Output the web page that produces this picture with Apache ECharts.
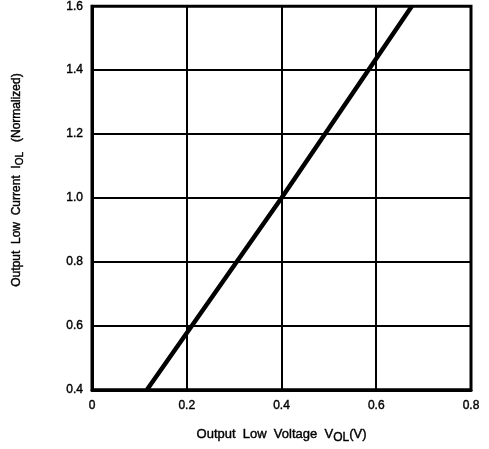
<!DOCTYPE html>
<html>
<head>
<meta charset="utf-8">
<script src="https://cdn.jsdelivr.net/npm/echarts@6/dist/echarts.min.js"></script>
<style>
  html, body { margin: 0; padding: 0; background: #fff; }
  #chart { width: 489px; height: 449px; }
</style>
</head>
<body>
<div id="chart"></div>
<script>
// Output low current (normalized) vs. output low voltage
const xTicks = [0, 0.2, 0.4, 0.6, 0.8];
const yTicks = [0.4, 0.6, 0.8, 1.0, 1.2, 1.4, 1.6];
const voltage = [0.116, 0.4, 0.675];
const current = [0.4, 1.0, 1.6];

const seriesData = voltage.map((v, i) => [v, current[i]]);
const fontFamily = '"Liberation Sans", Arial, sans-serif';
const ink = { color: '#000', fontFamily, textBorderColor: '#000', textBorderWidth: 0.4 };

const chart = echarts.init(document.getElementById('chart'), null, { renderer: 'canvas' });
chart.setOption({
  backgroundColor: '#fff',
  animation: false,
  grid: {
    left: 92, top: 5, right: 18, bottom: 57,
    show: true, borderColor: '#000', borderWidth: 3
  },
  xAxis: {
    type: 'value',
    min: xTicks[0], max: xTicks[xTicks.length - 1], interval: 0.2,
    axisLine: { show: true, lineStyle: { color: '#000', width: 3 } },
    axisTick: { show: false },
    splitLine: { show: true, lineStyle: { color: '#000', width: 2 } },
    axisLabel: Object.assign({}, ink, {
      fontSize: 12, margin: 10,
      formatter: v => (v === 0 ? '0' : v.toFixed(1))
    }),
    name: '{t|Output  Low  Voltage  V}{s|OL}{t|(V)}',
    nameLocation: 'middle', nameGap: 36,
    nameTextStyle: {
      rich: {
        t: Object.assign({}, ink, { fontSize: 13, lineHeight: 15 }),
        s: Object.assign({}, ink, { fontSize: 12, padding: [6, 0, 0, 0] })
      }
    }
  },
  yAxis: {
    type: 'value',
    min: yTicks[0], max: yTicks[yTicks.length - 1], interval: 0.2,
    axisLine: { show: true, lineStyle: { color: '#000', width: 3 } },
    axisTick: { show: false },
    splitLine: { show: true, lineStyle: { color: '#000', width: 2 } },
    axisLabel: Object.assign({}, ink, {
      fontSize: 12, margin: 9,
      formatter: v => v.toFixed(1)
    }),
    name: '{t|Output  Low  Current  I}{s|OL}{t|   (Normalized)}',
    nameLocation: 'middle', nameGap: 67,
    nameTextStyle: {
      padding: [0, 0, 0, 36],
      rich: {
        t: Object.assign({}, ink, { fontSize: 12, lineHeight: 14 }),
        s: Object.assign({}, ink, { fontSize: 10, padding: [6, 0, 0, 0] })
      }
    }
  },
  series: [{
    type: 'line',
    data: seriesData,
    symbol: 'none',
    lineStyle: { color: '#000', width: 4.5 },
    clip: true
  }]
});
</script>
</body>
</html>
